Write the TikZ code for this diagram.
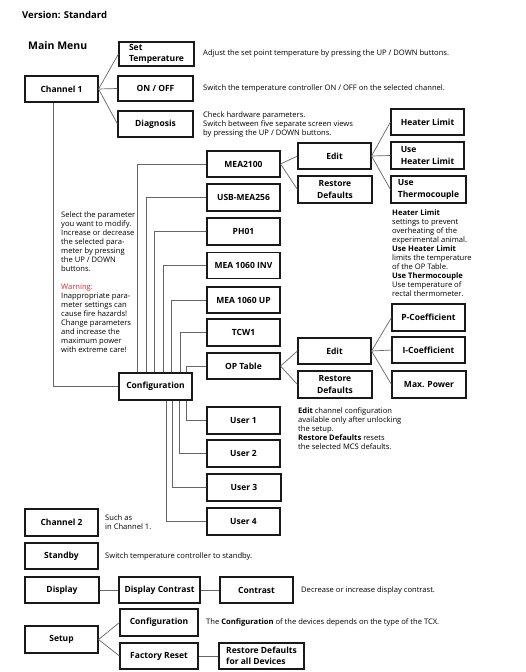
\documentclass[tikz,border=0pt]{standalone}
\usepackage{fontspec}
\setmainfont{Open Sans}
\definecolor{warnred}{HTML}{E8202A}
\begin{document}
\begin{tikzpicture}[x=1pt,y=-1pt,
 box/.style={draw=black!90, line width=1.1pt, minimum width=73pt, minimum height=26pt, inner sep=0pt, font=\fontsize{8.5}{11.5}\selectfont\bfseries, align=center},
 lbox/.style={box, align=left},
 conn/.style={draw=black!60, line width=0.7pt},
 desc/.style={anchor=west, inner sep=0pt, font=\fontsize{7.6}{9}\selectfont, align=left},
 block/.style={anchor=north west, inner sep=0pt, font=\fontsize{7.6}{9}\selectfont, align=left},
 ]
\useasboundingbox[fill=white] (0,0) rectangle (525,672);

% headings
\node[anchor=west, inner sep=0pt, font=\fontsize{9.5}{11}\selectfont\bfseries] (ver) at (22,15) {Version: Standard};
\node[anchor=west, inner sep=0pt, font=\fontsize{10.5}{12}\selectfont\bfseries] (mm) at (28,46) {Main Menu};

% boxes
\node[box] (ch1) at (61.5,89) {Channel 1};
\node[lbox, minimum width=75pt, minimum height=24pt] (settemp) at (156.5,54) {Set\\Temperature};
\node[box, minimum width=75pt, minimum height=25pt] (onoff) at (155.5,88.5) {ON / OFF};
\node[box, minimum width=75pt] (diag) at (155.5,124) {Diagnosis};

\node[box] (mea) at (243.5,164) {MEA2100};
\node[box] (edit1) at (334.5,156) {Edit};
\node[box, minimum width=74pt, minimum height=27pt] (rd1) at (335,189.5) {Restore\\Defaults};
\node[box] (hl) at (427.5,122) {Heater Limit};
\node[lbox, minimum height=27pt] (uhl) at (427.5,155.5) {Use\\Heater Limit};
\node[lbox, minimum width=75pt, minimum height=27pt] (uth) at (428.5,189.5) {Use\\Thermocouple};

\node[box, minimum height=27pt] (usb) at (243.5,197.5) {USB-MEA256};
\node[box, minimum height=27pt] (ph) at (243.5,231.5) {PH01};
\node[box] (inv) at (243.5,265.5) {MEA 1060 INV};
\node[box] (up) at (243.5,300) {MEA 1060 UP};
\node[box, minimum height=27pt] (tcw) at (243.5,332.5) {TCW1};
\node[box] (op) at (243.5,366) {OP Table};
\node[box, minimum height=27pt] (conf) at (155.5,386.5) {Configuration};

\node[box] (edit2) at (334.5,351) {Edit};
\node[box, minimum width=74pt, minimum height=27pt] (rd2) at (335,384.5) {Restore\\Defaults};
\node[box, minimum height=27pt] (pc) at (428.5,317.5) {P-Coefficient};
\node[box] (ic) at (428.5,350) {I-Coefficient};
\node[box, minimum width=74pt, minimum height=27pt] (mp) at (429,384.5) {Max. Power};

\node[box, minimum height=27pt] (u1) at (243.5,420.5) {User 1};
\node[box, minimum height=27pt] (u2) at (243.5,453.5) {User 2};
\node[box, minimum width=74pt, minimum height=27pt] (u3) at (244,487.5) {User 3};
\node[box, minimum height=27pt] (u4) at (243.5,521.5) {User 4};

\node[box, minimum height=27pt] (ch2) at (61.5,522.5) {Channel 2};
\node[box] (sb) at (61.5,556) {Standby};
\node[box, minimum width=74pt] (disp) at (62,590) {Display};
\node[box, minimum width=81pt] (dc) at (159.5,590) {Display Contrast};
\node[box] (ctr) at (256.5,590) {Contrast};
\node[box, minimum height=27pt] (setup) at (61.5,639.5) {Setup};
\node[box, minimum width=78pt, minimum height=27pt] (sconf) at (159,622.5) {Configuration};
\node[box, minimum width=78pt] (fr) at (159,656) {Factory Reset};
\node[lbox, minimum width=85pt] (rdall) at (261.5,656) {Restore Defaults\\for all Devices};

% connectors
\draw[conn] (ch1.east) -- (settemp.west);
\draw[conn] (ch1.east) -- (onoff.west);
\draw[conn] (ch1.east) -- (diag.west);
\draw[conn] ([xshift=-8.5pt]ch1.south) |- (conf.west);

\draw[conn] ([xshift=19pt]conf.north west) |- (mea.west);
\draw[conn] ([xshift=28pt]conf.north west) |- (usb.west);
\draw[conn] ([xshift=36pt]conf.north west) |- (ph.west);
\draw[conn] ([xshift=45pt]conf.north west) |- (inv.west);
\draw[conn] ([xshift=53pt]conf.north west) |- (up.west);
\draw[conn] ([xshift=62pt]conf.north west) |- (tcw.west);
\draw[conn] ([xshift=68pt]conf.north west) |- (op.west);

\draw[conn] ([xshift=68pt]conf.south west) |- (u1.west);
\draw[conn] ([xshift=61pt]conf.south west) |- (u2.west);
\draw[conn] ([xshift=54pt]conf.south west) |- (u3.west);
\draw[conn] ([xshift=48pt]conf.south west) |- (u4.west);

\draw[conn] (mea.east) -- (edit1.west);
\draw[conn] (mea.east) -- (rd1.west);
\draw[conn] (edit1.east) -- (hl.west);
\draw[conn] (edit1.east) -- (uhl.west);
\draw[conn] (edit1.east) -- (uth.west);

\draw[conn] (op.east) -- (edit2.west);
\draw[conn] (op.east) -- (rd2.west);
\draw[conn] (edit2.east) -- (pc.west);
\draw[conn] (edit2.east) -- (ic.west);
\draw[conn] (edit2.east) -- (mp.west);

\draw[conn] (disp.east) -- (dc.west);
\draw[conn] (dc.east) -- (ctr.west);
\draw[conn] (setup.east) -- (sconf.west);
\draw[conn] (setup.east) -- (fr.west);
\draw[conn] (fr.east) -- (rdall.west);

% descriptions
\node[desc] (t1) at (203,54) {Adjust the set point temperature by pressing the UP / DOWN buttons.};
\node[desc] (t2) at (203,89) {Switch the temperature controller ON / OFF on the selected channel.};
\node[block] (t3) at (203,111.5) {Check hardware parameters.\\Switch between five separate screen views\\by pressing the UP / DOWN buttons.};
\node[block] (t4) at (61,212) {Select the parameter\\you want to modify.\\Increase or decrease\\the selected para-\\meter by pressing\\the UP / DOWN\\buttons.\\[9pt]\textcolor{warnred}{Warning:}\\Inappropriate para-\\meter settings can\\cause fire hazards!\\Change parameters\\and increase the\\maximum power\\with extreme care!};
\node[block] (t5) at (392,209.5) {\textbf{Heater Limit}\\settings to prevent\\overheating of the\\experimental animal.\\\textbf{Use Heater Limit}\\limits the temperature\\of the OP Table.\\\textbf{Use Thermocouple}\\Use temperature of\\rectal thermometer.};
\node[block] (t6) at (298,407) {\textbf{Edit} channel configuration\\available only after unlocking\\the setup.\\\textbf{Restore Defaults} resets\\the selected MCS defaults.};
\node[block] (t7) at (105,515) {Such as\\in Channel 1.};
\node[desc] (t8) at (105,556.5) {Switch temperature controller to standby.};
\node[desc] (t9) at (301,590.5) {Decrease or increase display contrast.};
\node[desc] (t10) at (206,622.5) {The \textbf{Configuration} of the devices depends on the type of the TCX.};
\end{tikzpicture}
\end{document}
